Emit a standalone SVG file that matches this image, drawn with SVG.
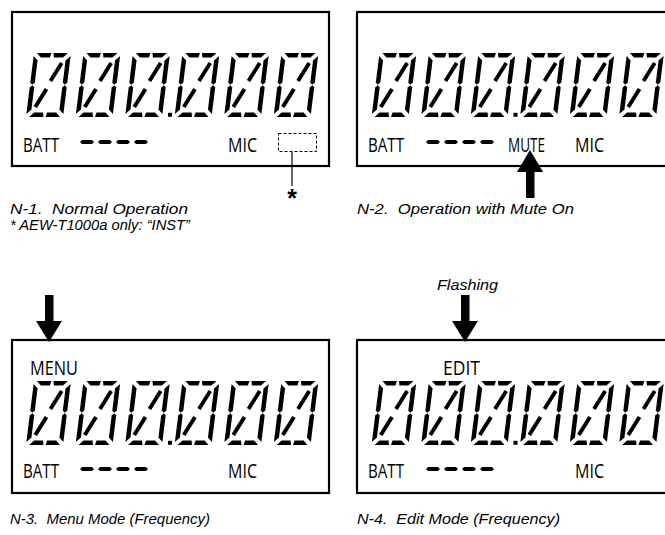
<svg xmlns="http://www.w3.org/2000/svg" xmlns:xlink="http://www.w3.org/1999/xlink" width="665" height="535" viewBox="0 0 665 535">
<style>
.frame{fill:none;stroke:#000;stroke-width:2.2}
.lcd{font-family:"Open Sans","Liberation Sans",sans-serif;font-size:19.5px;fill:#000}
.cap{font-family:"Liberation Sans",Arial,sans-serif;font-size:14px;font-style:italic;fill:#000;white-space:pre}
.seg{fill:#000}
.dg line{stroke:#000;stroke-width:4;stroke-linecap:butt}
</style>
<defs>
<g id="dg" class="dg" transform="skewX(-7.1)">
<polygon class="seg" points="3,-64 17.5,-64 16.5,-59.5 7.5,-59.5"/>
<polygon class="seg" points="19.5,-64 34,-64 29.5,-59.5 20.5,-59.5"/>
<polygon class="seg" points="0,-61 4.5,-56.5 4.5,-34.5 2.25,-32.3 0,-34.5"/>
<polygon class="seg" points="0,-29.5 2.25,-31.7 4.5,-29.5 4.5,-7.5 0,-3"/>
<polygon class="seg" points="37,-61 37,-34.5 34.75,-32.3 32.5,-34.5 32.5,-56.5"/>
<polygon class="seg" points="37,-29.5 37,-3 32.5,-7.5 32.5,-29.5 34.75,-31.7"/>
<polygon class="seg" points="3,0 7.5,-4.5 16.5,-4.5 17.5,0"/>
<polygon class="seg" points="19.5,0 20.5,-4.5 29.5,-4.5 34,0"/>
<line x1="20" y1="-36" x2="29" y2="-54"/>
<line x1="17" y1="-28" x2="8" y2="-10"/>
</g>
<g id="row">
<use xlink:href="#dg" x="0" y="0"/>
<use xlink:href="#dg" x="49.5" y="0"/>
<use xlink:href="#dg" x="99" y="0"/>
<use xlink:href="#dg" x="148.5" y="0"/>
<use xlink:href="#dg" x="198" y="0"/>
<use xlink:href="#dg" x="247.5" y="0"/>
<rect x="142" y="-4.2" width="4" height="4"/>
</g>
<g id="dash">
<polygon points="0,0 2,-2 12,-2 14,0 12,2 2,2"/>
<polygon points="18,0 20,-2 30,-2 32,0 30,2 20,2"/>
<polygon points="36,0 38,-2 48,-2 50,0 48,2 38,2"/>
<polygon points="54,0 56,-2 66,-2 68,0 66,2 56,2"/>
</g>
</defs>

<g id="panel-n1">
<rect class="frame" x="12" y="12" width="317" height="154"/>
<use xlink:href="#row" x="26" y="117"/>
<text class="lcd" x="23" y="152" textLength="36" lengthAdjust="spacingAndGlyphs">BATT</text>
<use xlink:href="#dash" x="80" y="142"/>
<text class="lcd" x="228" y="152" textLength="29" lengthAdjust="spacingAndGlyphs">MIC</text>
<rect x="278.5" y="133.5" width="38" height="18" fill="none" stroke="#000" stroke-width="1" stroke-dasharray="3,2"/>
<line x1="292" y1="152" x2="292" y2="186" stroke="#000" stroke-width="1.2"/>
<text x="292" y="207" text-anchor="middle" font-family="Liberation Sans,Arial,sans-serif" font-weight="bold" font-size="25">*</text>
<text class="cap" x="10" y="214" textLength="178" lengthAdjust="spacingAndGlyphs" xml:space="preserve">N-1.  Normal Operation</text>
<text class="cap" x="10" y="230" textLength="180" lengthAdjust="spacingAndGlyphs">* AEW-T1000a only: “INST”</text>
</g>

<g id="panel-n2">
<rect class="frame" x="357" y="12" width="330" height="154"/>
<use xlink:href="#row" x="371.5" y="117"/>
<text class="lcd" x="368" y="152" textLength="36" lengthAdjust="spacingAndGlyphs">BATT</text>
<use xlink:href="#dash" x="426" y="142"/>
<text class="lcd" x="508" y="152" textLength="37" lengthAdjust="spacingAndGlyphs">MUTE</text>
<text class="lcd" x="575" y="152" textLength="29" lengthAdjust="spacingAndGlyphs">MIC</text>
<text class="cap" x="357" y="214" textLength="217" lengthAdjust="spacingAndGlyphs" xml:space="preserve">N-2.  Operation with Mute On</text>
</g>

<g id="panel-n3">
<rect class="frame" x="12" y="340" width="317" height="153"/>
<text class="lcd" x="30" y="375" textLength="48" lengthAdjust="spacingAndGlyphs">MENU</text>
<use xlink:href="#row" x="26" y="445"/>
<text class="lcd" x="23" y="478" textLength="36" lengthAdjust="spacingAndGlyphs">BATT</text>
<use xlink:href="#dash" x="80" y="469"/>
<text class="lcd" x="228" y="478" textLength="29" lengthAdjust="spacingAndGlyphs">MIC</text>
<text class="cap" x="10" y="524" textLength="200" lengthAdjust="spacingAndGlyphs" xml:space="preserve">N-3.  Menu Mode (Frequency)</text>
</g>

<g id="panel-n4">
<rect class="frame" x="357" y="340" width="330" height="153"/>
<text class="lcd" x="443" y="375" textLength="37" lengthAdjust="spacingAndGlyphs">EDIT</text>
<use xlink:href="#row" x="371.5" y="445"/>
<text class="lcd" x="368" y="478" textLength="36" lengthAdjust="spacingAndGlyphs">BATT</text>
<use xlink:href="#dash" x="426" y="469"/>
<text class="lcd" x="575" y="478" textLength="29" lengthAdjust="spacingAndGlyphs">MIC</text>
<text class="cap" x="437" y="290" textLength="61" lengthAdjust="spacingAndGlyphs">Flashing</text>
<text class="cap" x="357" y="524" textLength="203" lengthAdjust="spacingAndGlyphs" xml:space="preserve">N-4.  Edit Mode (Frequency)</text>
</g>

<g id="pointers" fill="#000">
<rect x="526" y="170" width="8.5" height="28"/>
<polygon points="517,172 543,172 530,150"/>
<rect x="45" y="295" width="8.5" height="28"/>
<polygon points="36,321 62,321 49,342"/>
<rect x="461" y="295" width="8.5" height="28"/>
<polygon points="452,321 478,321 465,342"/>
</g>
</svg>
